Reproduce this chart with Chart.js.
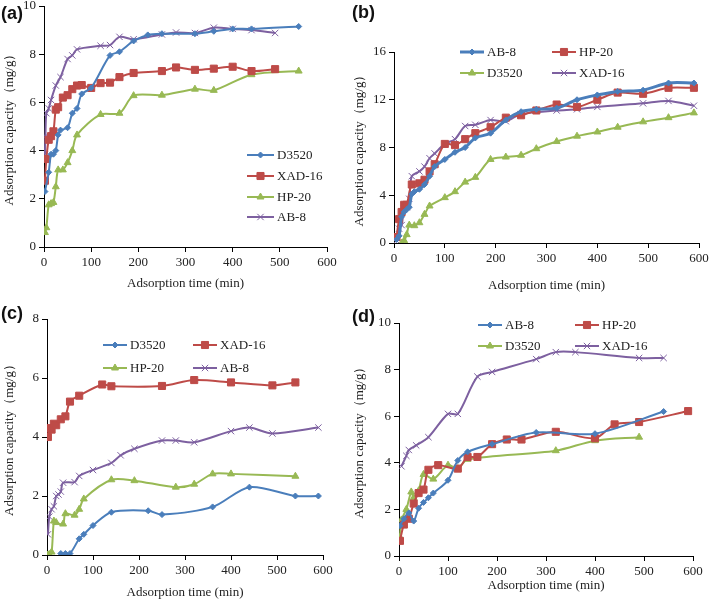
<!DOCTYPE html>
<html lang="en">
<head>
<meta charset="UTF-8">
<title>Adsorption kinetics</title>
<script src="https://cdn.jsdelivr.net/npm/chart.js"></script>
<style>
    body { margin: 0; background: #fff; width: 709px; height: 600px; position: relative; overflow: hidden; }
    canvas { position: absolute; }
    .tag { position: absolute; font-family: "Liberation Sans", Arial, sans-serif; font-weight: bold; font-size: 18px; color: #111; }
</style>
</head>
<body>
<canvas id="chartA" width="354" height="300" style="left:0;top:0"></canvas>
<canvas id="chartB" width="359" height="300" style="left:350px;top:0"></canvas>
<canvas id="chartC" width="354" height="300" style="left:0;top:300px"></canvas>
<canvas id="chartD" width="359" height="300" style="left:350px;top:300px"></canvas>
<div class="tag" style="left:1px;top:3px">(a)</div>
<div class="tag" style="left:352px;top:2px">(b)</div>
<div class="tag" style="left:1px;top:303px">(c)</div>
<div class="tag" style="left:352px;top:306px">(d)</div>

<script>
// ---- panel (a) ----
const aD3520T = [2, 10, 15, 20, 25, 30, 35, 50, 60, 70, 80, 100, 140, 160, 190, 220, 250, 320, 360, 400, 440, 540];
const aD3520 = [2.3, 3.1, 3.85, 3.85, 4.0, 4.65, 4.85, 4.95, 5.55, 5.75, 6.35, 6.6, 7.95, 8.1, 8.55, 8.8, 8.85, 8.85, 8.95, 9.05, 9.05, 9.15];
const aXAD16T = [2, 5, 10, 15, 20, 25, 30, 40, 50, 60, 70, 80, 100, 120, 140, 160, 190, 250, 280, 320, 360, 400, 440, 490];
const aXAD16 = [2.75, 3.65, 4.45, 4.6, 4.8, 5.7, 5.8, 6.2, 6.3, 6.55, 6.7, 6.72, 6.6, 6.8, 6.82, 7.05, 7.22, 7.3, 7.45, 7.35, 7.4, 7.48, 7.3, 7.38];
const aHP20T = [2, 5, 10, 15, 20, 25, 30, 40, 50, 60, 70, 120, 160, 190, 250, 320, 360, 440, 540];
const aHP20 = [0.6, 0.8, 1.75, 1.8, 1.85, 2.5, 3.2, 3.2, 3.5, 4.0, 4.65, 5.5, 5.55, 6.28, 6.3, 6.55, 6.5, 7.15, 7.3];
const aAB8T = [2, 3, 5, 10, 15, 25, 35, 50, 60, 70, 120, 140, 160, 190, 250, 280, 320, 360, 400, 440, 490];
const aAB8 = [3.85, 4.6, 5.55, 5.75, 6.1, 6.7, 7.05, 7.8, 7.95, 8.2, 8.35, 8.38, 8.72, 8.62, 8.82, 8.9, 8.88, 9.1, 9.05, 9.0, 8.88];

// ---- panel (b) ----
const bAB8T = [5, 10, 15, 20, 25, 30, 35, 40, 50, 60, 70, 80, 100, 120, 140, 160, 190, 220, 250, 280, 320, 360, 400, 440, 490, 540, 590];
const bAB8 = [0.3, 0.6, 2.2, 2.6, 2.8, 3.0, 4.1, 4.3, 4.5, 4.9, 5.6, 6.4, 7.0, 7.6, 8.0, 8.8, 9.2, 10.3, 11.0, 11.2, 11.3, 12.0, 12.4, 12.7, 12.8, 13.4, 13.4];
const bHP20T = [5, 10, 15, 20, 25, 35, 50, 60, 70, 80, 100, 120, 140, 160, 190, 220, 250, 280, 320, 360, 400, 440, 490, 540, 590];
const bHP20 = [0.5, 2.0, 2.6, 3.2, 3.2, 4.9, 5.0, 5.3, 6.0, 6.6, 8.3, 8.2, 8.7, 9.2, 9.7, 10.5, 10.7, 11.1, 11.6, 11.4, 12.0, 12.6, 12.5, 13.0, 13.0];
const bD3520T = [15, 20, 25, 30, 40, 50, 60, 70, 100, 120, 140, 160, 190, 220, 250, 280, 320, 360, 400, 440, 490, 540, 590];
const bD3520 = [0, 0.2, 0.7, 1.5, 1.45, 1.7, 2.4, 3.1, 3.8, 4.3, 5.1, 5.5, 7.0, 7.2, 7.35, 7.9, 8.5, 8.95, 9.3, 9.7, 10.15, 10.5, 10.9];
const bXAD16T = [5, 10, 15, 20, 25, 30, 35, 50, 60, 70, 80, 100, 120, 140, 160, 190, 220, 250, 320, 360, 400, 490, 540, 590];
const bXAD16 = [0.2, 1.2, 1.5, 2.9, 3.0, 3.7, 5.6, 6.0, 6.4, 7.1, 7.5, 8.3, 8.7, 9.8, 9.9, 10.3, 10.2, 10.8, 11.1, 11.2, 11.4, 11.7, 11.9, 11.5];

// ---- panel (c) ----
const cD3520T = [30, 40, 50, 70, 80, 100, 140, 220, 250, 360, 440, 540, 590];
const cD3520 = [0.05, 0.05, 0.05, 0.55, 0.7, 1.0, 1.45, 1.5, 1.37, 1.63, 2.3, 2.0, 2.0];
const cXAD16T = [2, 5, 10, 15, 20, 30, 40, 50, 70, 120, 140, 250, 320, 400, 490, 540];
const cXAD16 = [4.0, 4.3, 4.25, 4.45, 4.4, 4.6, 4.7, 5.2, 5.4, 5.78, 5.72, 5.73, 5.93, 5.85, 5.75, 5.85];
const cHP20T = [2, 5, 10, 15, 20, 35, 40, 60, 70, 80, 140, 190, 280, 320, 360, 400, 540];
const cHP20 = [0, 0.02, 0.1, 1.15, 1.1, 1.05, 1.4, 1.35, 1.55, 1.9, 2.55, 2.52, 2.3, 2.4, 2.75, 2.75, 2.67];
const cAB8T = [2, 5, 10, 15, 20, 25, 30, 35, 60, 70, 100, 140, 160, 190, 250, 280, 320, 400, 440, 490, 590];
const cAB8 = [0.7, 1.3, 1.55, 1.65, 2.0, 2.05, 2.15, 2.45, 2.47, 2.68, 2.88, 3.12, 3.38, 3.6, 3.88, 3.88, 3.82, 4.2, 4.32, 4.12, 4.32];

// ---- panel (d) ----
const dAB8T = [2, 10, 20, 30, 40, 50, 60, 70, 100, 120, 140, 190, 280, 400, 540];
const dAB8 = [1.3, 1.6, 1.85, 1.5, 2.05, 2.3, 2.5, 2.7, 3.25, 4.1, 4.47, 4.8, 5.3, 5.25, 6.2];
const dHP20T = [2, 10, 20, 30, 40, 50, 60, 80, 120, 140, 160, 190, 220, 250, 320, 400, 440, 490, 590];
const dHP20 = [0.65, 1.35, 1.6, 2.25, 2.7, 2.85, 3.7, 3.9, 3.75, 4.25, 4.25, 4.8, 5.0, 5.0, 5.33, 5.05, 5.65, 5.75, 6.22];
const dD3520T = [2, 5, 15, 25, 30, 40, 50, 70, 100, 120, 140, 320, 400, 490];
const dD3520 = [0.8, 1.55, 2.0, 2.75, 2.5, 2.8, 3.5, 3.3, 3.9, 3.75, 4.15, 4.52, 4.95, 5.1];
const dXAD16T = [5, 15, 20, 35, 60, 100, 120, 160, 190, 280, 320, 360, 490, 540];
const dXAD16 = [3.85, 4.3, 4.55, 4.75, 5.1, 6.1, 6.1, 7.7, 7.9, 8.45, 8.75, 8.75, 8.5, 8.5];

const xTicks = [0, 100, 200, 300, 400, 500, 600];

// series styles by drawing order: blue, red, green, purple
const colors = ['#4A7EBB', '#BE4B48', '#98B954', '#7D60A0'];
const markers = ['rectRot', 'rect', 'triangle', 'crossRot'];
const radii = [3, 5, 4, 4.5];

const serif = '"Liberation Serif", "Times New Roman", serif';
const textColor = '#222';

// draws the legend inside the plot at fixed spots
const inPlotLegend = {
    id: 'inPlotLegend',
    afterDraw(chart, args, opts) {
        const ctx = chart.ctx;
        ctx.save();
        opts.items.forEach((it, i) => {
            const ds = chart.data.datasets[i];
            ctx.strokeStyle = ds.borderColor;
            ctx.fillStyle = ds.borderColor;
            ctx.lineWidth = ds.borderWidth;
            ctx.beginPath();
            ctx.moveTo(it.x, it.y);
            ctx.lineTo(it.x + opts.len, it.y);
            ctx.stroke();
            ctx.lineWidth = 1;
            Chart.helpers.drawPoint(ctx, { pointStyle: ds.pointStyle, radius: ds.pointRadius, rotation: 0, borderWidth: 1 }, it.x + opts.len / 2, it.y);
            ctx.fillStyle = textColor;
            ctx.font = '13px ' + serif;
            ctx.textBaseline = 'middle';
            ctx.textAlign = 'left';
            ctx.fillText(ds.label, it.x + opts.len + 3, it.y + 1);
        });
        ctx.restore();
    }
};

function makePanel(id, p) {
    const datasets = p.series.map((s, i) => ({
        label: s.name,
        data: s.t.map((t, k) => ({ x: t, y: s.v[k] })),
        borderColor: colors[i],
        backgroundColor: colors[i],
        pointBackgroundColor: colors[i],
        pointBorderColor: colors[i],
        pointStyle: markers[i],
        pointRadius: radii[i],
        pointBorderWidth: 1,
        borderWidth: s.w || 2,
        tension: 0.3,
        fill: false
    }));

    new Chart(document.getElementById(id), {
        type: 'line',
        data: { datasets: datasets },
        options: {
            responsive: false,
            animation: false,
            layout: { padding: p.pad },
            plugins: {
                legend: { display: false },
                tooltip: { enabled: false },
                inPlotLegend: { items: p.legend, len: p.legendLen }
            },
            scales: {
                x: {
                    type: 'linear',
                    min: 0, max: 600,
                    afterBuildTicks: ax => { ax.ticks = xTicks.map(v => ({ value: v })); },
                    ticks: { color: textColor, font: { family: serif, size: 13 }, padding: 3, maxRotation: 0 },
                    grid: { drawOnChartArea: false, tickLength: 5, color: '#000' },
                    border: { color: '#000', width: 1 },
                    title: { display: true, text: 'Adsorption time (min)', color: textColor, font: { family: serif, size: 13 }, padding: { top: 0, bottom: p.xTitlePad } },
                    afterFit: ax => { ax.height = p.xH; ax.paddingLeft = 0; ax.paddingRight = 0; }
                },
                y: {
                    min: 0, max: p.yMax,
                    afterBuildTicks: ax => { ax.ticks = p.yTicks.map(v => ({ value: v })); },
                    ticks: { color: textColor, font: { family: serif, size: 13 }, padding: 3 },
                    grid: { drawOnChartArea: false, tickLength: 5, color: '#000' },
                    border: { color: '#000', width: 1 },
                    title: { display: true, text: 'Adsorption capacity（mg/g）', color: textColor, font: { family: serif, size: 13 }, padding: { top: 2, bottom: 0 } },
                    afterFit: ax => { ax.width = p.yW; ax.paddingTop = 0; ax.paddingBottom = 0; }
                }
            }
        },
        plugins: [inPlotLegend]
    });
}

makePanel('chartA', {
    series: [
        { name: 'D3520', t: aD3520T, v: aD3520 },
        { name: 'XAD-16', t: aXAD16T, v: aXAD16 },
        { name: 'HP-20', t: aHP20T, v: aHP20 },
        { name: 'AB-8', t: aAB8T, v: aAB8 }
    ],
    yMax: 10, yTicks: [0, 2, 4, 6, 8, 10],
    pad: { left: 0, right: 27, top: 5, bottom: 0 }, yW: 44, xH: 53, xTitlePad: 9,
    legendLen: 27,
    legend: [{ x: 247, y: 155 }, { x: 247, y: 176 }, { x: 247, y: 197 }, { x: 247, y: 217 }]
});

makePanel('chartB', {
    series: [
        { name: 'AB-8', t: bAB8T, v: bAB8, w: 3 },
        { name: 'HP-20', t: bHP20T, v: bHP20 },
        { name: 'D3520', t: bD3520T, v: bD3520 },
        { name: 'XAD-16', t: bXAD16T, v: bXAD16 }
    ],
    yMax: 16, yTicks: [0, 4, 8, 12, 16],
    pad: { left: 0, right: 10, top: 52, bottom: 0 }, yW: 44, xH: 57, xTitlePad: 7,
    legendLen: 24,
    legend: [{ x: 110, y: 52 }, { x: 202, y: 52 }, { x: 110, y: 73 }, { x: 202, y: 73 }]
});

makePanel('chartC', {
    series: [
        { name: 'D3520', t: cD3520T, v: cD3520 },
        { name: 'XAD-16', t: cXAD16T, v: cXAD16 },
        { name: 'HP-20', t: cHP20T, v: cHP20 },
        { name: 'AB-8', t: cAB8T, v: cAB8 }
    ],
    yMax: 8, yTicks: [0, 2, 4, 6, 8],
    pad: { left: 0, right: 31, top: 19, bottom: 0 }, yW: 47, xH: 45, xTitlePad: 0,
    legendLen: 24,
    legend: [{ x: 103, y: 45 }, { x: 193, y: 45 }, { x: 103, y: 68 }, { x: 193, y: 68 }]
});

makePanel('chartD', {
    series: [
        { name: 'AB-8', t: dAB8T, v: dAB8 },
        { name: 'HP-20', t: dHP20T, v: dHP20 },
        { name: 'D3520', t: dD3520T, v: dD3520 },
        { name: 'XAD-16', t: dXAD16T, v: dXAD16 }
    ],
    yMax: 10, yTicks: [0, 2, 4, 6, 8, 10],
    pad: { left: 0, right: 16, top: 23, bottom: 0 }, yW: 49, xH: 44, xTitlePad: 7,
    legendLen: 24,
    legend: [{ x: 128, y: 25 }, { x: 225, y: 25 }, { x: 128, y: 46 }, { x: 225, y: 46 }]
});
</script>
</body>
</html>
